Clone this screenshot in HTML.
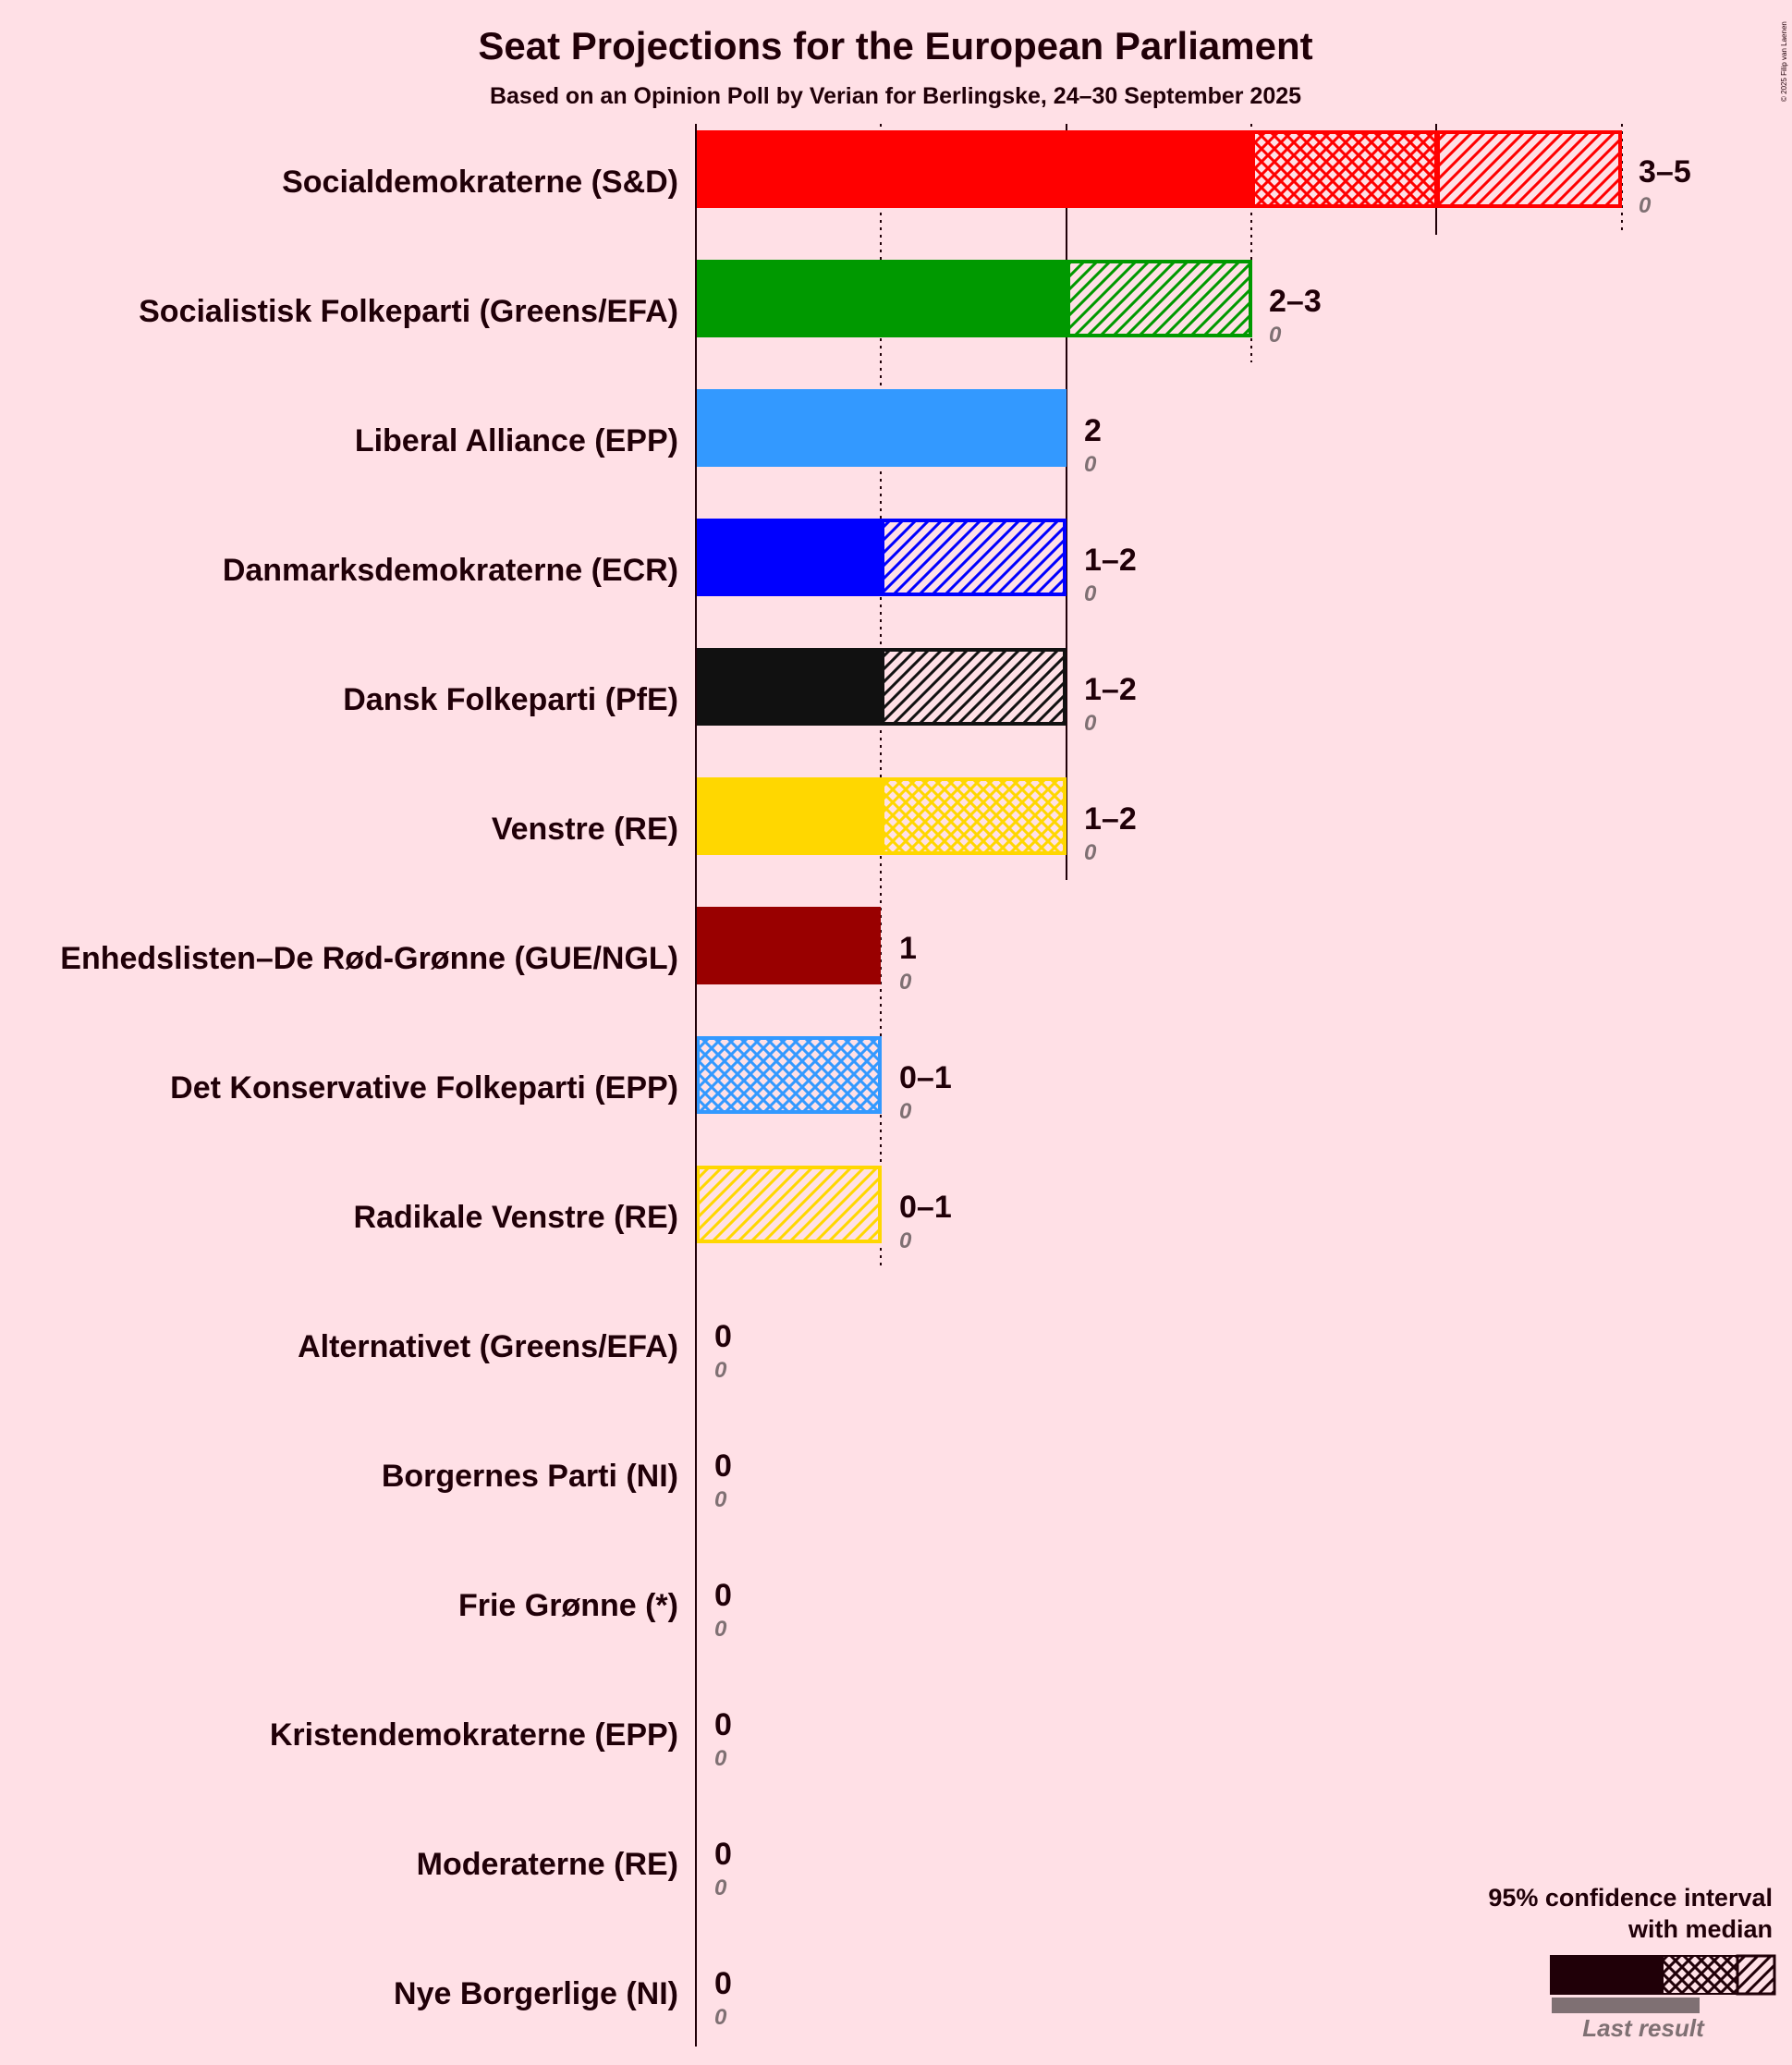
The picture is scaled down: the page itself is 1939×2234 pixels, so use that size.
<!DOCTYPE html>
<html><head><meta charset="utf-8"><style>
html,body{margin:0;padding:0;background:#FFE0E6;}
svg{display:block;font-family:"Liberation Sans",sans-serif;}
</style></head><body>
<svg width="1939" height="2234" viewBox="0 0 1939 2234" xmlns="http://www.w3.org/2000/svg">
<defs>
<pattern id="dR" width="14" height="14" patternUnits="userSpaceOnUse"><rect width="14" height="14" fill="#FFE0E6"/><path d="M-3,3L3,-3M0,14L14,0M11,17L17,11" stroke="#FF0000" stroke-width="3"/></pattern>
<pattern id="cR" width="14" height="14" patternUnits="userSpaceOnUse"><rect width="14" height="14" fill="#FFE0E6"/><path d="M-3,3L3,-3M0,14L14,0M11,17L17,11M-3,11L3,17M0,0L14,14M11,-3L17,3" stroke="#FF0000" stroke-width="3"/></pattern>
<pattern id="dG" width="14" height="14" patternUnits="userSpaceOnUse"><rect width="14" height="14" fill="#FFE0E6"/><path d="M-3,3L3,-3M0,14L14,0M11,17L17,11" stroke="#009900" stroke-width="3"/></pattern>
<pattern id="dB" width="14" height="14" patternUnits="userSpaceOnUse"><rect width="14" height="14" fill="#FFE0E6"/><path d="M-3,3L3,-3M0,14L14,0M11,17L17,11" stroke="#0000FF" stroke-width="3"/></pattern>
<pattern id="dK" width="14" height="14" patternUnits="userSpaceOnUse"><rect width="14" height="14" fill="#FFE0E6"/><path d="M-3,3L3,-3M0,14L14,0M11,17L17,11" stroke="#111111" stroke-width="3"/></pattern>
<pattern id="cY" width="14" height="14" patternUnits="userSpaceOnUse"><rect width="14" height="14" fill="#FFE0E6"/><path d="M-3,3L3,-3M0,14L14,0M11,17L17,11M-3,11L3,17M0,0L14,14M11,-3L17,3" stroke="#FFD700" stroke-width="3"/></pattern>
<pattern id="dY" width="14" height="14" patternUnits="userSpaceOnUse"><rect width="14" height="14" fill="#FFE0E6"/><path d="M-3,3L3,-3M0,14L14,0M11,17L17,11" stroke="#FFD700" stroke-width="3"/></pattern>
<pattern id="cL" width="14" height="14" patternUnits="userSpaceOnUse"><rect width="14" height="14" fill="#FFE0E6"/><path d="M-3,3L3,-3M0,14L14,0M11,17L17,11M-3,11L3,17M0,0L14,14M11,-3L17,3" stroke="#3399FF" stroke-width="3"/></pattern>
<pattern id="cW" width="14" height="14" patternUnits="userSpaceOnUse"><rect width="14" height="14" fill="#FFE0E6"/><path d="M-3,3L3,-3M0,14L14,0M11,17L17,11M-3,11L3,17M0,0L14,14M11,-3L17,3" stroke="#200008" stroke-width="3"/></pattern>
<pattern id="dW" width="14" height="14" patternUnits="userSpaceOnUse"><rect width="14" height="14" fill="#FFE0E6"/><path d="M-3,3L3,-3M0,14L14,0M11,17L17,11" stroke="#200008" stroke-width="3"/></pattern>
</defs>
<rect width="1939" height="2234" fill="#FFE0E6"/>
<text x="969" y="64" text-anchor="middle" font-size="42" font-weight="bold" fill="#200008">Seat Projections for the European Parliament</text>
<text x="969" y="112" text-anchor="middle" font-size="25" font-weight="bold" fill="#200008">Based on an Opinion Poll by Verian for Berlingske, 24–30 September 2025</text>
<text x="1933" y="110" font-size="8" fill="#200008" transform="rotate(-90 1933 110)">© 2025 Filip van Laenen</text>

<g stroke="#200008" stroke-width="2">
<line x1="953" y1="134" x2="953" y2="1371" stroke-dasharray="3,5"/>
<line x1="1154" y1="134" x2="1154" y2="952"/>
<line x1="1354" y1="134" x2="1354" y2="392" stroke-dasharray="3,5"/>
<line x1="1554" y1="134" x2="1554" y2="254"/>
<line x1="1755" y1="134" x2="1755" y2="254" stroke-dasharray="3,5"/>
</g>

<rect x="753" y="141" width="601" height="84" fill="#FF0000"/>
<rect x="1356" y="143" width="198" height="80" fill="url(#cR)" stroke="#FF0000" stroke-width="4"/>
<rect x="1556" y="143" width="197" height="80" fill="url(#dR)" stroke="#FF0000" stroke-width="4"/>

<rect x="753" y="281" width="401" height="84" fill="#009900"/>
<rect x="1156" y="283" width="197" height="80" fill="url(#dG)" stroke="#009900" stroke-width="4"/>

<rect x="753" y="421" width="401" height="84" fill="#3399FF"/>

<rect x="753" y="561" width="200" height="84" fill="#0000FF"/>
<rect x="955" y="563" width="197" height="80" fill="url(#dB)" stroke="#0000FF" stroke-width="4"/>

<rect x="753" y="701" width="200" height="84" fill="#111111"/>
<rect x="955" y="703" width="197" height="80" fill="url(#dK)" stroke="#111111" stroke-width="4"/>

<rect x="753" y="841" width="200" height="84" fill="#FFD700"/>
<rect x="955" y="843" width="197" height="80" fill="url(#cY)" stroke="#FFD700" stroke-width="4"/>

<rect x="753" y="981" width="200" height="84" fill="#990000"/>

<rect x="755" y="1123" width="197" height="80" fill="url(#cL)" stroke="#3399FF" stroke-width="4"/>
<rect x="755" y="1263" width="197" height="80" fill="url(#dY)" stroke="#FFD700" stroke-width="4"/>

<line x1="753" y1="134" x2="753" y2="2214" stroke="#200008" stroke-width="2"/>

<g font-size="34" font-weight="bold" fill="#200008" text-anchor="end">
<text x="734" y="208">Socialdemokraterne (S&amp;D)</text>
<text x="734" y="348">Socialistisk Folkeparti (Greens/EFA)</text>
<text x="734" y="488">Liberal Alliance (EPP)</text>
<text x="734" y="628">Danmarksdemokraterne (ECR)</text>
<text x="734" y="768">Dansk Folkeparti (PfE)</text>
<text x="734" y="908">Venstre (RE)</text>
<text x="734" y="1048">Enhedslisten–De Rød-Grønne (GUE/NGL)</text>
<text x="734" y="1188">Det Konservative Folkeparti (EPP)</text>
<text x="734" y="1328">Radikale Venstre (RE)</text>
<text x="734" y="1468">Alternativet (Greens/EFA)</text>
<text x="734" y="1608">Borgernes Parti (NI)</text>
<text x="734" y="1748">Frie Grønne (*)</text>
<text x="734" y="1888">Kristendemokraterne (EPP)</text>
<text x="734" y="2028">Moderaterne (RE)</text>
<text x="734" y="2168">Nye Borgerlige (NI)</text>
</g>
<g font-size="34" font-weight="bold" fill="#200008">
<text x="1773" y="197">3–5</text>
<text x="1373" y="337">2–3</text>
<text x="1173" y="477">2</text>
<text x="1173" y="617">1–2</text>
<text x="1173" y="757">1–2</text>
<text x="1173" y="897">1–2</text>
<text x="973" y="1037">1</text>
<text x="973" y="1177">0–1</text>
<text x="973" y="1317">0–1</text>
<text x="773" y="1457">0</text>
<text x="773" y="1597">0</text>
<text x="773" y="1737">0</text>
<text x="773" y="1877">0</text>
<text x="773" y="2017">0</text>
<text x="773" y="2157">0</text>
</g>
<g font-size="24" font-style="italic" font-weight="bold" fill="#7F7073">
<text x="1773" y="230">0</text>
<text x="1373" y="370">0</text>
<text x="1173" y="510">0</text>
<text x="1173" y="650">0</text>
<text x="1173" y="790">0</text>
<text x="1173" y="930">0</text>
<text x="973" y="1070">0</text>
<text x="973" y="1210">0</text>
<text x="973" y="1350">0</text>
<text x="773" y="1490">0</text>
<text x="773" y="1630">0</text>
<text x="773" y="1770">0</text>
<text x="773" y="1910">0</text>
<text x="773" y="2050">0</text>
<text x="773" y="2190">0</text>
</g>

<g font-size="27" font-weight="bold" fill="#200008" text-anchor="end">
<text x="1918" y="2062">95% confidence interval</text>
<text x="1918" y="2096">with median</text>
</g>
<rect x="1679" y="2161" width="160" height="17" fill="#7F7073"/>
<rect x="1677" y="2115" width="122" height="43" fill="#200008"/>
<rect x="1799" y="2116" width="81" height="41" fill="url(#cW)" stroke="#200008" stroke-width="2"/>
<rect x="1880" y="2116" width="40" height="41" fill="url(#dW)" stroke="#200008" stroke-width="3"/>
<text x="1778" y="2203" text-anchor="middle" font-size="26" font-style="italic" font-weight="bold" fill="#7F7073">Last result</text>
</svg>
</body></html>
